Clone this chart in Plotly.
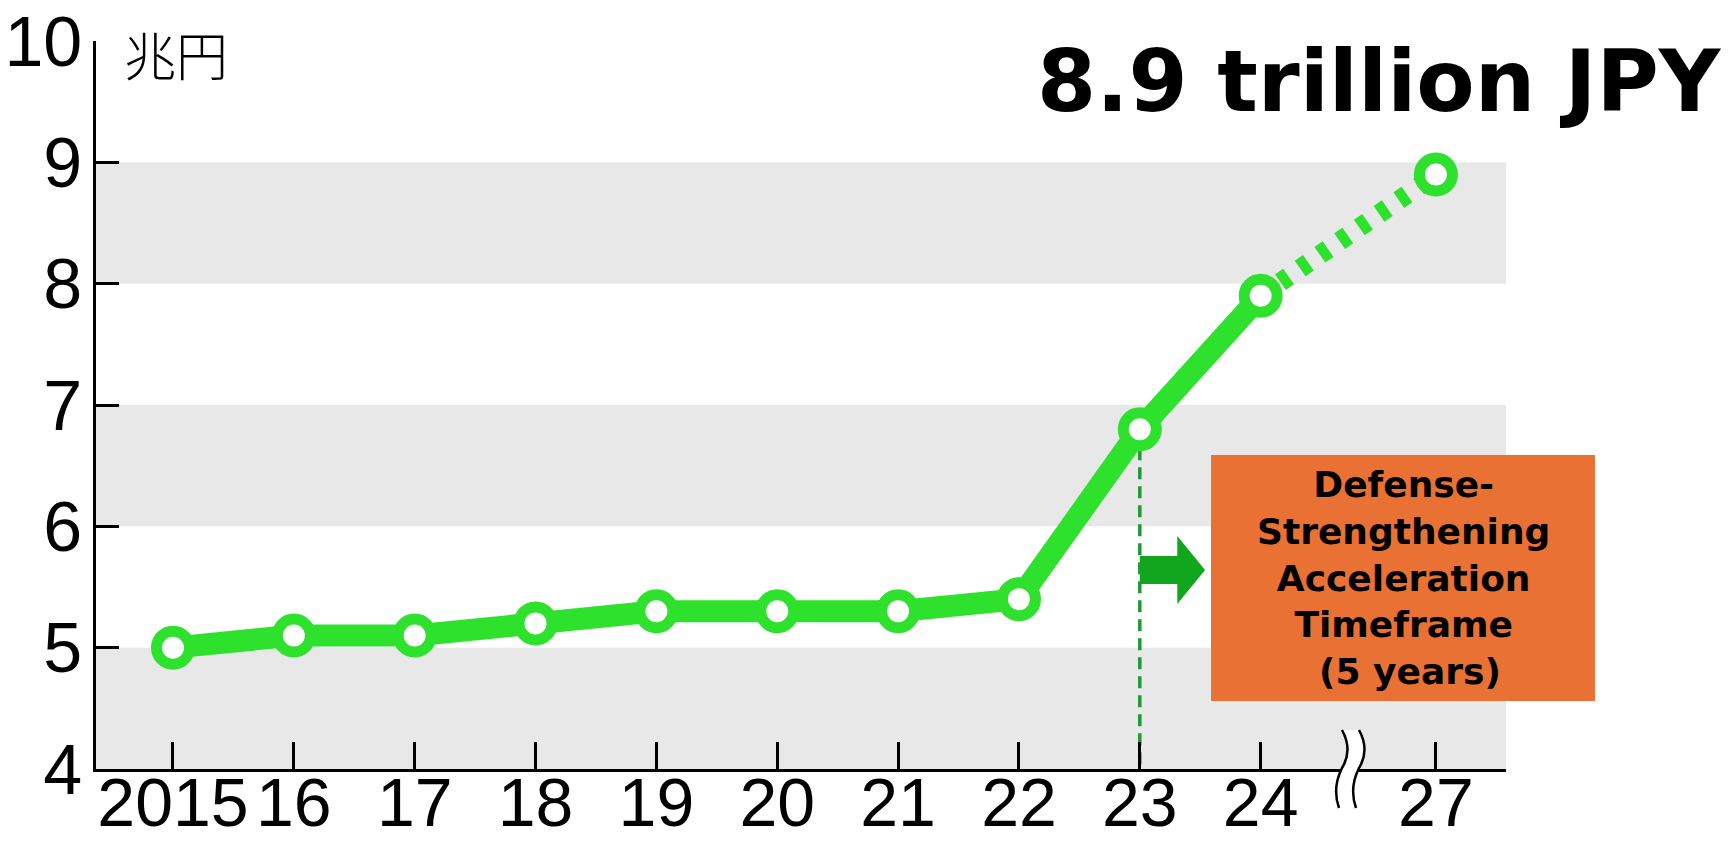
import plotly.graph_objects as go

# ---------------- data ----------------
years = [2015, 2016, 2017, 2018, 2019, 2020, 2021, 2022, 2023, 2024, 2027]
tick_labels = ["2015", "16", "17", "18", "19", "20", "21", "22", "23", "24", "27"]
budget = [5.0, 5.1, 5.1, 5.2, 5.3, 5.3, 5.3, 5.4, 6.8, 7.9, 8.9]
y_ticks = [4, 5, 6, 7, 8, 9, 10]
band_ranges = [(4, 5), (6, 7), (8, 9)]
unit_label = "兆円"
headline = "8.9 trillion JPY"
box_lines = ["Defense-", "Strengthening", "Acceleration", "Timeframe", " (5 years)"]

# ---------------- layout constants ----------------
OFF = 8                      # browser body margin
W, H = 1729 - 2 * OFF, 849 - 2 * OFF
ML, MR, MT, MB = 88, 215, 33, 72
PW, PH = W - ML - MR, H - MT - MB
BREAK_GAP = 1.45  # axis distance between 2024 and 2027 (broken axis)

GREEN = "#2de12d"
DARK_GREEN = "#1f9a35"
ARROW_GREEN = "#12a51e"
ORANGE = "#e97133"
BAND = "#e8e8e8"
X_TICK_FONT = dict(family="Liberation Sans Narrow, Liberation Sans", size=68, color="black")
Y_TICK_FONT = dict(family="Liberation Sans Narrow, Liberation Sans", size=70, color="black")
BOLD = "DejaVu Sans"

xpos = [y - years[0] if y <= 2024 else (2024 - years[0]) + BREAK_GAP for y in years]
i24 = years.index(2024)
i23 = years.index(2023)


def px_x(p):  # screen pixel -> paper x
    return (p - OFF - ML) / PW


def px_y(p):  # screen pixel -> paper y
    return (H - MB - (p - OFF)) / PH


fig = go.Figure()

# vertical dashed marker line at 2023
fig.add_trace(go.Scatter(
    x=[xpos[i23], xpos[i23]], y=[budget[i23], y_ticks[0]], mode="lines",
    line=dict(color=DARK_GREEN, width=3.5, dash="12px,7px"), hoverinfo="skip", showlegend=False))

# solid part
fig.add_trace(go.Scatter(
    x=xpos[:i24 + 1], y=budget[:i24 + 1], mode="lines",
    line=dict(color=GREEN, width=22), showlegend=False))

# projected dashed part
fig.add_trace(go.Scatter(
    x=xpos[i24:], y=budget[i24:], mode="lines",
    line=dict(color=GREEN, width=19, dash="10px,14px"), showlegend=False))

# markers
fig.add_trace(go.Scatter(
    x=xpos, y=budget, mode="markers",
    marker=dict(size=33, color="white", line=dict(color=GREEN, width=11)),
    showlegend=False))

shapes = []
for lo, hi in band_ranges:
    shapes.append(dict(type="rect", xref="x domain", x0=0, x1=1, yref="y", y0=lo, y1=hi,
                       fillcolor=BAND, line=dict(width=0), layer="below"))

# arrow (block) right of the 2023 line
ax0 = xpos[i23]
ax_mid = ax0 + 0.31
ax_tip = ax0 + 0.54
acy, sh, hh = 5.64, 0.115, 0.28
shapes.append(dict(
    type="path", xref="x", yref="y",
    path=(f"M {ax0},{acy + sh} L {ax_mid},{acy + sh} L {ax_mid},{acy + hh} L {ax_tip},{acy} "
          f"L {ax_mid},{acy - hh} L {ax_mid},{acy - sh} L {ax0},{acy - sh} Z"),
    fillcolor=ARROW_GREEN, line=dict(width=0)))

# orange box
shapes.append(dict(type="rect", xref="paper", yref="paper",
                   x0=px_x(1211), x1=px_x(1595), y0=px_y(701), y1=px_y(455),
                   fillcolor=ORANGE, line=dict(width=0)))


# axis break symbol
def wave(x):
    return (f"M {px_x(x)},{px_y(730)} Q {px_x(x + 11)},{px_y(750)} {px_x(x)},{px_y(768)} "
            f"Q {px_x(x - 10)},{px_y(788)} {px_x(x - 3)},{px_y(808)}")


bx = 1342
fill_path = (f"M {px_x(bx)},{px_y(730)} Q {px_x(bx + 11)},{px_y(750)} {px_x(bx)},{px_y(768)} "
             f"Q {px_x(bx - 10)},{px_y(788)} {px_x(bx - 3)},{px_y(808)} "
             f"L {px_x(bx + 14)},{px_y(808)} "
             f"Q {px_x(bx + 7)},{px_y(788)} {px_x(bx + 17)},{px_y(768)} "
             f"Q {px_x(bx + 28)},{px_y(750)} {px_x(bx + 17)},{px_y(730)} Z")
shapes.append(dict(type="path", xref="paper", yref="paper", path=fill_path,
                   fillcolor="white", line=dict(width=0)))
shapes.append(dict(type="path", xref="paper", yref="paper", path=wave(bx),
                   line=dict(color="black", width=2.5)))
shapes.append(dict(type="path", xref="paper", yref="paper", path=wave(bx + 17),
                   line=dict(color="black", width=2.5)))

annotations = [
    dict(text=headline, xref="paper", yref="paper", x=px_x(1724), y=px_y(81),
         xanchor="right", yanchor="middle", showarrow=False,
         font=dict(family=BOLD, size=85, color="black", weight="bold")),
    dict(text=unit_label, xref="paper", yref="paper", x=px_x(122), y=px_y(OFF + 6),
         xanchor="left", yanchor="top", showarrow=False,
         font=dict(family="Noto Sans CJK JP", size=52, color="black", weight=300)),
    dict(text="<br>".join(box_lines), xref="paper", yref="paper",
         x=px_x(1403), y=px_y(578), xanchor="center", yanchor="middle", showarrow=False,
         align="center", font=dict(family=BOLD, size=36, color="black", weight="bold")),
]

fig.update_layout(
    width=W, height=H,
    margin=dict(l=ML, r=MR, t=MT, b=MB),
    paper_bgcolor="white", plot_bgcolor="white",
    shapes=shapes, annotations=annotations,
    xaxis=dict(range=[-0.637, 11.03], tickvals=xpos, ticktext=tick_labels,
               ticks="inside", ticklen=27, tickwidth=2.5, tickcolor="black",
               showline=True, linecolor="black", linewidth=2.5, tickangle=0,
               automargin=False, ticklabeloverflow="allow",
               showgrid=False, zeroline=False, tickfont=X_TICK_FONT),
    yaxis=dict(range=[4, 10], tickvals=y_ticks, ticks="inside", ticklen=23,
               tickwidth=2.5, tickcolor="black", showline=True, linecolor="black",
               linewidth=2.5, showgrid=False, zeroline=False, tickfont=Y_TICK_FONT,
               automargin=False, ticklabeloverflow="allow"),
    showlegend=False,
)

try:
    fig.update_xaxes(ticklabelstandoff=-27)
    fig.update_yaxes(ticklabelstandoff=-3)
except ValueError:
    fig.update_xaxes(ticklabelstandoff=0)
    fig.update_yaxes(ticklabelstandoff=0)

fig.write_html("out.html")
